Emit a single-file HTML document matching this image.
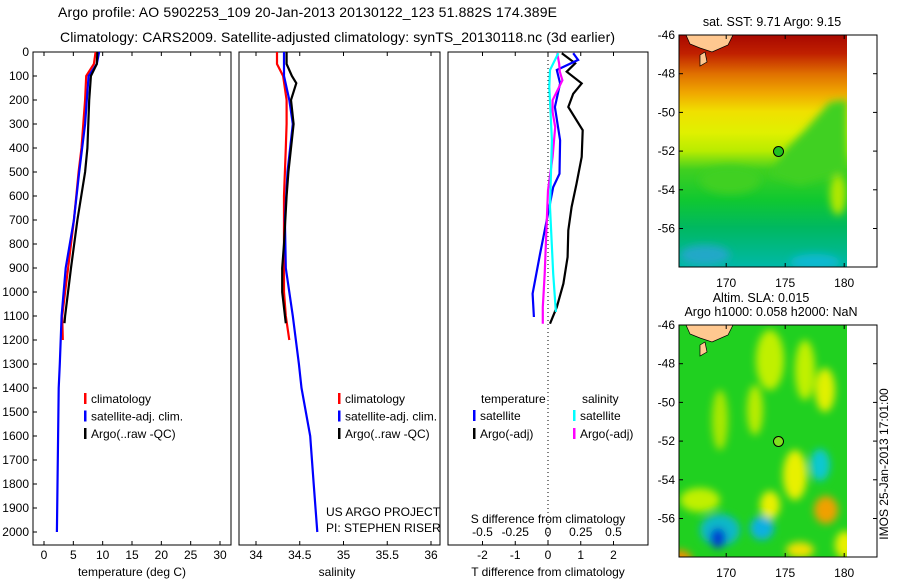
<!DOCTYPE html>
<html><head><meta charset="utf-8"><style>
html,body{margin:0;padding:0;background:#fff;}
svg{display:block;font-family:"Liberation Sans",sans-serif;}
</style></head><body>
<svg id="fig" width="900" height="580" viewBox="0 0 900 580">
<defs>
<linearGradient id="sstg" x1="0" y1="0" x2="0" y2="1">
<stop offset="0" stop-color="#a80800"/><stop offset="0.08" stop-color="#c02000"/><stop offset="0.167" stop-color="#e07000"/>
<stop offset="0.25" stop-color="#f0a800"/><stop offset="0.33" stop-color="#f0e000"/><stop offset="0.42" stop-color="#e0f000"/>
<stop offset="0.5" stop-color="#b8ec00"/><stop offset="0.58" stop-color="#40d020"/><stop offset="0.71" stop-color="#10c830"/>
<stop offset="0.83" stop-color="#00b860"/><stop offset="1" stop-color="#00b8a8"/></linearGradient>
<filter id="blur"><feGaussianBlur stdDeviation="4"/></filter>
<clipPath id="m1c"><rect x="679" y="35" width="168" height="232"/></clipPath>
<clipPath id="m2c"><rect x="679" y="325" width="168" height="232"/></clipPath>
</defs>
<g id="titles" font-size="14">
<text x="58" y="17" textLength="499">Argo profile: AO 5902253_109 20-Jan-2013 20130122_123 51.882S 174.389E</text>
<text x="60" y="42" textLength="555">Climatology: CARS2009. Satellite-adjusted climatology: synTS_20130118.nc (3d earlier)</text>
</g>
<g id="panels"></g>
<!-- SST map -->
<g>
<text x="772" y="26" font-size="12.5" text-anchor="middle">sat. SST: 9.71  Argo: 9.15</text>
<g clip-path="url(#m1c)">
<rect x="679" y="35" width="168" height="232" fill="url(#sstg)"/>
<g filter="url(#blur)">
<path d="M847 100 L830 102 L805 130 L785 150 L770 175 L800 185 L847 170 Z" fill="#40d020"/>
<ellipse cx="730" cy="180" rx="30" ry="14" fill="#40d020"/>
<ellipse cx="705" cy="255" rx="25" ry="10" fill="#20a8c8"/>
<ellipse cx="815" cy="262" rx="25" ry="8" fill="#10b8d0"/>
<ellipse cx="838" cy="195" rx="8" ry="20" fill="#b0e800"/>
</g>
<path d="M686 35 L733 35 L728 45 L712 52 L700 48 L690 44 Z" fill="#ffc890" stroke="#000" stroke-width="0.7"/>
<path d="M700 55 L705 52 L707 62 L700 66 Z" fill="#ffc890" stroke="#000" stroke-width="0.7"/>
</g>
<rect x="679" y="35" width="198" height="232" fill="none" stroke="#000" stroke-width="1"/>
<circle cx="778.5" cy="151.5" r="5" fill="#20c020" stroke="#000"/>
<g id="m1ticks" font-size="12"></g>
</g>
<!-- SLA map -->
<g>
<text x="761" y="302" font-size="12.5" text-anchor="middle">Altim. SLA: 0.015</text>
<text x="771" y="316" font-size="12.5" text-anchor="middle">Argo h1000: 0.058 h2000: NaN</text>
<g clip-path="url(#m2c)">
<rect x="679" y="325" width="168" height="232" fill="#20d020"/>
<g filter="url(#blur)">
<ellipse cx="770" cy="360" rx="14" ry="30" fill="#c0f000"/>
<ellipse cx="805" cy="370" rx="10" ry="30" fill="#c0f000"/>
<ellipse cx="825" cy="390" rx="10" ry="22" fill="#e0f000"/>
<ellipse cx="755" cy="410" rx="8" ry="25" fill="#b8ec00"/>
<ellipse cx="720" cy="420" rx="8" ry="30" fill="#a8e800"/>
<ellipse cx="795" cy="475" rx="12" ry="25" fill="#e8f000"/>
<ellipse cx="770" cy="505" rx="10" ry="14" fill="#e8f000"/>
<ellipse cx="700" cy="500" rx="20" ry="12" fill="#c0f000"/>
<ellipse cx="820" cy="465" rx="10" ry="16" fill="#10c8d0"/>
<ellipse cx="826" cy="510" rx="12" ry="14" fill="#f0a000"/>
<ellipse cx="720" cy="530" rx="20" ry="16" fill="#10b8c8"/>
<ellipse cx="718" cy="538" rx="8" ry="10" fill="#0040d0"/>
<ellipse cx="762" cy="528" rx="12" ry="12" fill="#10b0e0"/>
<ellipse cx="800" cy="550" rx="14" ry="8" fill="#f0e000"/>
<ellipse cx="680" cy="560" rx="12" ry="10" fill="#f09000"/>
<ellipse cx="845" cy="545" rx="10" ry="14" fill="#e8f000"/>
</g>
<path d="M686 325 L733 325 L728 335 L712 342 L700 338 L690 334 Z" fill="#ffc890" stroke="#000" stroke-width="0.7"/>
<path d="M700 345 L705 342 L707 352 L700 356 Z" fill="#ffc890" stroke="#000" stroke-width="0.7"/>
</g>
<rect x="679" y="325" width="198" height="232" fill="none" stroke="#000" stroke-width="1"/>
<circle cx="778.5" cy="441.5" r="5" fill="#80e020" stroke="#000"/>
<g id="m2ticks" font-size="12"></g>
<text transform="translate(888,464) rotate(-90)" font-size="12" text-anchor="middle">IMOS 25-Jan-2013 17:01:00</text>
</g>
</svg>
<script>
// ---- data ----
const tDepth = [0,50,100,200,300,400,500,600,700,800,900,1000,1100,1200];
const tClim = [8.8,8.5,7.2,7.0,6.7,6.4,5.9,5.5,5.1,4.6,4.1,3.6,3.1,3.2];
const bDepth = [0,50,100,200,300,500,700,900,1100,1300,1400,1600,1800,2000];
const tSat = [9.4,9.0,7.6,7.3,7.0,6.0,5.1,3.7,3.0,2.7,2.5,2.4,2.3,2.2];
const aDepth = [0,50,100,200,400,500,700,900,1100,1130];
const tArgo = [9.1,9.0,8.0,7.7,7.4,7.0,5.7,4.6,3.6,3.5];
const sClim = [34.24,34.24,34.31,34.35,34.35,34.34,34.33,34.32,34.32,34.32,34.32,34.32,34.34,34.38];
const sSat = [34.32,34.32,34.32,34.38,34.42,34.36,34.33,34.34,34.42,34.49,34.52,34.62,34.66,34.70];
const sArgoDepth = [0,50,100,130,200,300,400,500,600,800,900,1000,1130];
const sArgo = [34.35,34.35,34.41,34.46,34.40,34.43,34.40,34.37,34.35,34.32,34.30,34.30,34.34];
const dDepth = [5,33,75,131,229,368,507,563,674,840,1007,1104];
const dTsat = [0.77,0.92,0.27,0.37,0.21,0.37,0.35,0.16,0.0,-0.24,-0.47,-0.43];
const dDepthA = [5,47,82,131,174,229,326,437,549,646,743,854,965,1063,1132];
const dTargo = [0.42,0.83,0.57,1.03,0.77,0.62,1.06,1.03,0.87,0.72,0.62,0.60,0.47,0.27,0.06];
const dDepthS = [5,75,146,368,646,924,1083];
const dSsat = [0.079,0.015,0.01,0.03,0.015,0.04,0.06];
const dDepthM = [5,47,82,118,201,250,313,437,576,785,924,1063,1132];
const dSargo = [0.07,0.085,0.09,0.11,0.035,0.035,0.055,0.035,0.0,-0.015,-0.025,-0.04,-0.04];
const depthTicks = [0,100,200,300,400,500,600,700,800,900,1000,1100,1200,1300,1400,1500,1600,1700,1800,1900,2000];
const tTicks = [0,5,10,15,20,25,30];
const sTicks = [34,34.5,35,35.5,36];
const sTickLabels = ["34","34.5","35","35.5","36"];
const dTTicks = [-2,-1,0,1,2];
const dSTicks = [-0.5,-0.25,0,0.25,0.5];
const lonTicks = [170,175,180];
const latTicks = [-46,-48,-50,-52,-54,-56];

// ---- scales ----
const NS='http://www.w3.org/2000/svg';
const yD = d => 52 + d*0.24;
const xT = t => 44 + t*5.867;
const xS = s => 256 + (s-34)*87.5;
const xDT = t => 548 + t*32.75;
const xDS = s => 548 + s*131;
const xLon = l => 679 + (l-166)*11.8;
const yLat = l => 35 + (-46-l)*19.35;
const g = document.getElementById('panels');
function el(tag, attrs, parent){const e=document.createElementNS(NS,tag);for(const k in attrs)e.setAttribute(k,attrs[k]);(parent||g).appendChild(e);return e;}
function line(xs, ds, xf, color, name){
  const pts = xs.map((v,i)=>xf(v).toFixed(1)+','+yD(ds[i]).toFixed(1)).join(' ');
  const p = el('polyline',{points:pts,fill:'none',stroke:color,'stroke-width':2.2});
  
  
}
const panels=[[33,231],[239,440],[448,648]];
panels.forEach((p,i)=>{
  const r=el('rect',{x:p[0],y:52,width:p[1]-p[0],height:493,fill:'none',stroke:'#000','stroke-width':1});
  
  
});
depthTicks.forEach(d=>{
  el('line',{x1:33,x2:37,y1:yD(d),y2:yD(d),stroke:'#000'});
  const t=el('text',{x:29,y:yD(d)+4,'font-size':12,'text-anchor':'end'});
  t.textContent=d;
  
  
});
function xticks(vals,labels,xf,y,top){
  vals.forEach((v,i)=>{
    el('line',{x1:xf(v),x2:xf(v),y1:545,y2:541,stroke:'#000'});
    if(top) el('line',{x1:xf(v),x2:xf(v),y1:52,y2:56,stroke:'#000'});
    const t=el('text',{x:xf(v),y:y,'font-size':12,'text-anchor':'middle'});
    t.textContent=labels[i];
    
    
  });
}
xticks(tTicks,tTicks.map(String),xT,559,true);
xticks(sTicks,sTickLabels,xS,559,true);
xticks(dTTicks,dTTicks.map(String),xDT,559,true);
dSTicks.forEach(v=>{const t=el('text',{x:xDS(v),y:536,'font-size':12,'text-anchor':'middle'});t.textContent=String(v);
  
  });
el('line',{x1:548,x2:548,y1:52,y2:545,stroke:'#000','stroke-dasharray':'1,3'});
function txt(x,y,s,name,anchor,size){const t=el('text',{x:x,y:y,'font-size':size||12,'text-anchor':anchor||'start'});t.textContent=s;
  
  return t;}
txt(132,576,'temperature (deg C)','x-axis-title-temperature','middle');
txt(337,576,'salinity','x-axis-title-salinity','middle');
txt(548,576,'T difference from climatology','x-axis-title-t-diff','middle');
txt(548,523,'S difference from climatology','s-diff-axis-title','middle');
txt(326,516,'US ARGO PROJECT','project-label');
txt(326,532,'PI: STEPHEN RISER','pi-label');
line(tClim,tDepth,xT,'#ff0000','temp-climatology-line');
line(tSat,bDepth,xT,'#0000ff','temp-satellite-line');
line(tArgo,aDepth,xT,'#000000','temp-argo-line');
line(sClim,tDepth,xS,'#ff0000','sal-climatology-line');
line(sSat,bDepth,xS,'#0000ff','sal-satellite-line');
line(sArgo,sArgoDepth,xS,'#000000','sal-argo-line');
line(dTargo,dDepthA,xDT,'#000000','tdiff-argo-line');
line(dTsat,dDepth,xDT,'#0000ff','tdiff-satellite-line');
line(dSargo,dDepthM,xDS,'#ff00ff','sdiff-argo-line');
line(dSsat,dDepthS,xDS,'#00ffff','sdiff-satellite-line');
function leg(x,y,c,s){el('rect',{x:x,y:y-10,width:2.5,height:11,fill:c});txt(x+7,y,s,'legend-entry');}
[[84,'#ff0000','climatology'],[84,'#0000ff','satellite-adj. clim.'],[84,'#000000','Argo(..raw -QC)']].forEach((l,i)=>leg(l[0],403+i*17.5,l[1],l[2]));
[[338,'#ff0000','climatology'],[338,'#0000ff','satellite-adj. clim.'],[338,'#000000','Argo(..raw -QC)']].forEach((l,i)=>leg(l[0],403+i*17.5,l[1],l[2]));
txt(481,403,'temperature','legend-header-temperature');
txt(582,403,'salinity','legend-header-salinity');
leg(473,420,'#0000ff','satellite');leg(473,438,'#000000','Argo(-adj)');
leg(573,420,'#00ffff','satellite');leg(573,438,'#ff00ff','Argo(-adj)');
function mapTicks(id,y0,yoff){
  const p=document.getElementById(id);
  lonTicks.forEach(l=>{el('line',{x1:xLon(l),x2:xLon(l),y1:y0+232,y2:y0+228,stroke:'#000'},p);el('line',{x1:xLon(l),x2:xLon(l),y1:y0,y2:y0+4,stroke:'#000'},p);
    const t=el('text',{x:xLon(l),y:y0+252,'text-anchor':'middle'},p);t.textContent=l;
    
    });
  latTicks.forEach(l=>{const y=yLat(l)+yoff;el('line',{x1:679,x2:683,y1:y,y2:y,stroke:'#000'},p);el('line',{x1:877,x2:873,y1:y,y2:y,stroke:'#000'},p);
    const t=el('text',{x:675,y:y+4,'text-anchor':'end'},p);t.textContent=l;
    
    });
}
mapTicks('m1ticks',35,0);
mapTicks('m2ticks',325,290);
</script>
</body></html>
